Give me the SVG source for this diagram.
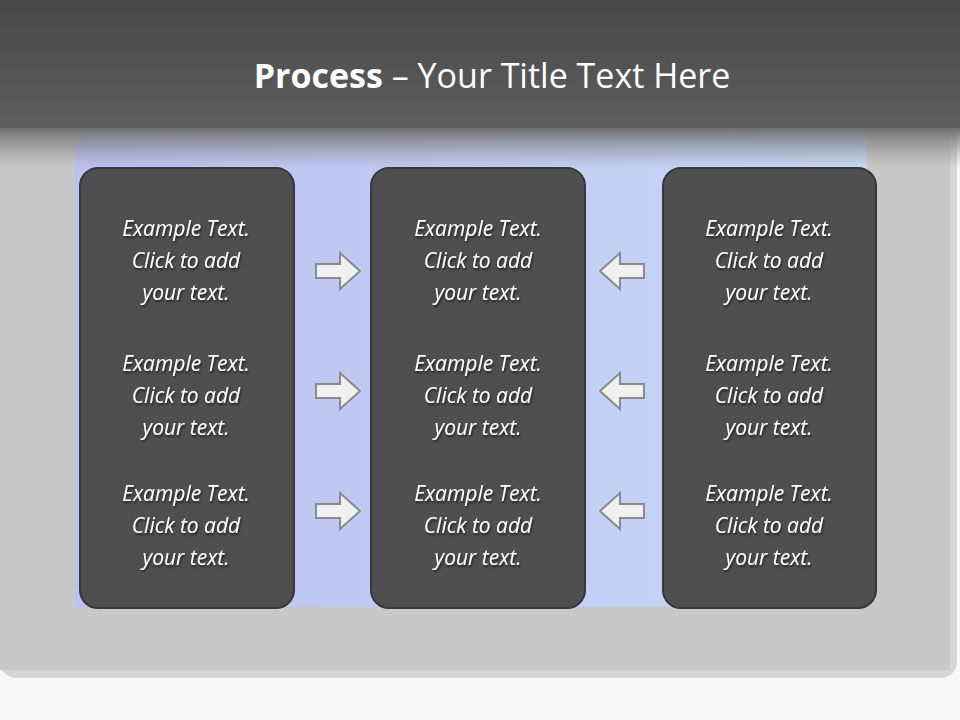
<svg xmlns="http://www.w3.org/2000/svg" width="960" height="720" viewBox="0 0 960 720">
<defs>
<linearGradient id="hdr" x1="0" y1="0" x2="0" y2="1"><stop offset="0" stop-color="#484848"/><stop offset="1" stop-color="#5e5e5e"/></linearGradient>
<linearGradient id="blue" x1="0" y1="0" x2="1" y2="0"><stop offset="0" stop-color="#bcc0f2"/><stop offset="1" stop-color="#c6d8f6"/></linearGradient>
<linearGradient id="fade" x1="0" y1="0" x2="0" y2="1"><stop offset="0" stop-color="#707070" stop-opacity="1"/><stop offset="1" stop-color="#909090" stop-opacity="0"/></linearGradient>
<filter id="sh" x="-10%" y="-10%" width="130%" height="130%"><feDropShadow dx="1" dy="2" stdDeviation="1.2" flood-color="#000" flood-opacity="0.6"/></filter>
<path id="ra" d="M-22,-7 H2 V-18 L22,0 L2,18 V7 H-22 Z"/>
</defs>
<style>
.box{fill:#4f4f4f;stroke:#383838;stroke-width:2}
.t{font-family:"Open Sans","DejaVu Sans",sans-serif;font-style:italic;font-size:21px;fill:#fff;text-anchor:middle;filter:url(#sh)}
.arr{fill:#f0f0f0;stroke:#8a8a8a;stroke-width:2}
</style>
<rect width="960" height="720" fill="#f8f8f8"/>
<rect x="0" y="0" width="957" height="678" rx="16" fill="#d6d6d6"/>
<rect x="0" y="0" width="950" height="670" fill="#c8c8c8"/>
<rect x="75" y="128" width="792" height="479" fill="url(#blue)"/>
<rect x="0" y="128" width="960" height="40" fill="url(#fade)"/>
<rect x="0" y="0" width="960" height="128" fill="url(#hdr)"/>
<text x="492" y="88" font-family="'Open Sans','DejaVu Sans',sans-serif" font-size="34" fill="#fff" text-anchor="middle"><tspan font-weight="bold">Process</tspan> – Your Title Text Here</text>
<g id="box-left"><rect class="box" x="80" y="168" width="214" height="440" rx="18"/>
<text class="t" x="186" y="236">Example Text.</text><text class="t" x="186" y="268">Click  to add</text><text class="t" x="186" y="300">your text.</text>
<text class="t" x="186" y="371">Example Text.</text><text class="t" x="186" y="403">Click  to add</text><text class="t" x="186" y="435">your text.</text>
<text class="t" x="186" y="501">Example Text.</text><text class="t" x="186" y="533">Click  to add</text><text class="t" x="186" y="565">your text.</text></g>
<g id="box-center"><rect class="box" x="371" y="168" width="214" height="440" rx="18"/>
<text class="t" x="478" y="236">Example Text.</text><text class="t" x="478" y="268">Click  to add</text><text class="t" x="478" y="300">your text.</text>
<text class="t" x="478" y="371">Example Text.</text><text class="t" x="478" y="403">Click  to add</text><text class="t" x="478" y="435">your text.</text>
<text class="t" x="478" y="501">Example Text.</text><text class="t" x="478" y="533">Click  to add</text><text class="t" x="478" y="565">your text.</text></g>
<g id="box-right"><rect class="box" x="663" y="168" width="213" height="440" rx="18"/>
<text class="t" x="769" y="236">Example Text.</text><text class="t" x="769" y="268">Click  to add</text><text class="t" x="769" y="300">your text.</text>
<text class="t" x="769" y="371">Example Text.</text><text class="t" x="769" y="403">Click  to add</text><text class="t" x="769" y="435">your text.</text>
<text class="t" x="769" y="501">Example Text.</text><text class="t" x="769" y="533">Click  to add</text><text class="t" x="769" y="565">your text.</text></g>
<g id="connectors">
<use href="#ra" class="arr" transform="translate(338,271)"/>
<use href="#ra" class="arr" transform="translate(338,391)"/>
<use href="#ra" class="arr" transform="translate(338,511)"/>
<use href="#ra" class="arr" transform="translate(622,271) scale(-1,1)"/>
<use href="#ra" class="arr" transform="translate(622,391) scale(-1,1)"/>
<use href="#ra" class="arr" transform="translate(622,511) scale(-1,1)"/>
</g>
</svg>
